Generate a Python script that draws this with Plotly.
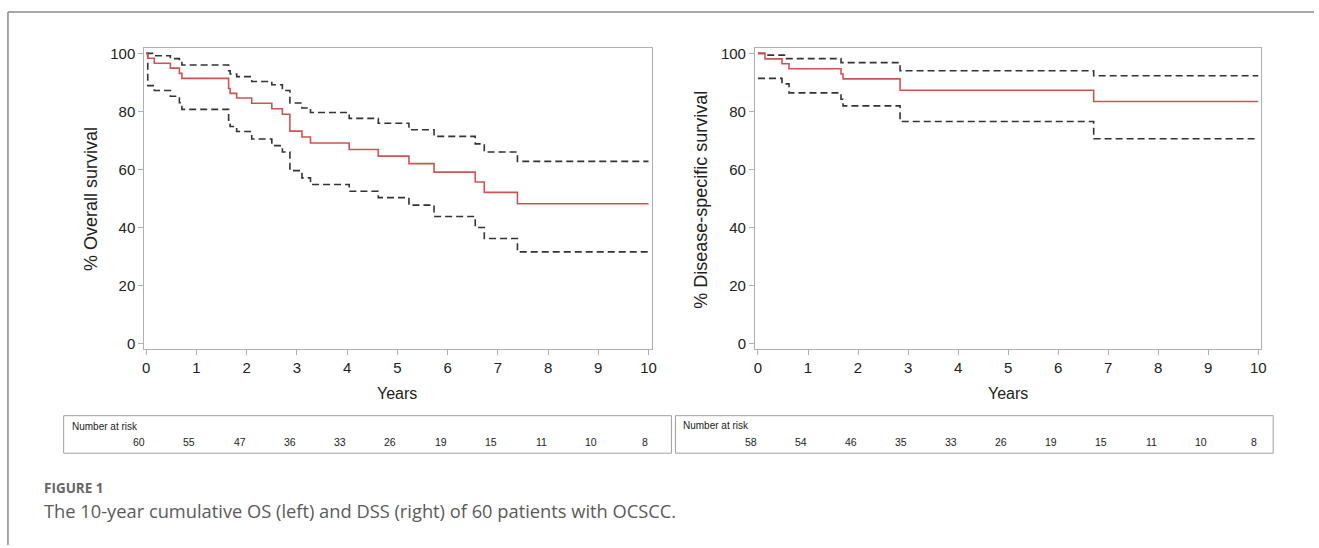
import plotly.graph_objects as go

W, H = 1319, 548

# ---------------- data ----------------
years = list(range(0, 11))

# Overall survival (left)
os_t = [0, 0.03, 0.16, 0.48, 0.66, 0.71, 1.64, 1.67, 1.80, 2.10, 2.50, 2.71, 2.86, 3.10, 3.27, 4.04, 4.62, 5.23, 5.73, 6.55, 6.73, 7.39, 10]
os_s = [100, 98.3, 96.6, 94.9, 93.1, 91.4, 87.9, 86.2, 84.6, 82.8, 80.9, 79.0, 73.2, 71.2, 69.1, 66.9, 64.6, 62.0, 59.1, 55.7, 52.1, 48.2, 48.2]
os_up_t = [0, 0.16, 0.48, 0.66, 0.71, 1.64, 1.67, 1.80, 2.10, 2.50, 2.71, 2.86, 3.10, 3.27, 4.04, 4.62, 5.23, 5.73, 6.55, 6.73, 7.39, 10]
os_up_s = [100, 99.2, 98.2, 97.4, 96.0, 94.0, 92.9, 92.0, 90.3, 89.2, 87.2, 82.9, 81.2, 79.6, 77.6, 75.9, 73.7, 71.4, 68.8, 66.0, 62.8, 62.8]
os_lo_t = [0, 0.03, 0.16, 0.48, 0.66, 0.71, 1.64, 1.67, 1.80, 2.10, 2.50, 2.71, 2.86, 3.10, 3.27, 4.04, 4.62, 5.23, 5.73, 6.55, 6.73, 7.39, 10]
os_lo_s = [100, 88.9, 87.2, 85.2, 83.0, 80.7, 77.0, 74.8, 73.1, 70.5, 68.2, 66.0, 59.6, 57.1, 54.8, 52.5, 50.3, 47.7, 43.8, 40.0, 36.2, 31.6, 31.6]
os_risk = [60, 55, 47, 36, 33, 26, 19, 15, 11, 10, 8]

# Disease-specific survival (right)
dss_t = [0, 0.14, 0.48, 0.62, 1.66, 1.70, 2.84, 6.71, 10]
dss_s = [100, 98.1, 96.4, 94.7, 92.9, 91.2, 87.3, 83.4, 83.4]
dss_up_t = [0, 0.14, 0.55, 1.66, 2.84, 6.71, 10]
dss_up_s = [100, 99.4, 98.2, 96.8, 94.0, 92.3, 92.3]
dss_lo_t = [0, 0.48, 0.62, 1.66, 1.70, 2.84, 6.71, 10]
dss_lo_s = [91.4, 89.5, 86.4, 84.2, 81.9, 76.5, 70.6, 70.6]
dss_risk = [58, 54, 46, 35, 33, 26, 19, 15, 11, 10, 8]

y_ticks = [0, 20, 40, 60, 80, 100]

# ---------------- styling ----------------
RED = "#d05353"
DASH = "#333333"
DASHPAT = "7px,4px"
AXC = "#b0b0b0"
TXT = "#222222"
FONT = "Liberation Sans, Arial, sans-serif"


def px_x(p):
    return p / W


def px_y(p):
    return 1 - p / H


fig = go.Figure()


def add_km(t, s, xa, ya, color, dash, width):
    fig.add_trace(go.Scatter(x=t, y=s, mode="lines", line=dict(color=color, dash=dash, width=width, shape="hv"),
                             xaxis=xa, yaxis=ya, showlegend=False, hoverinfo="skip"))


add_km(os_up_t, os_up_s, "x", "y", DASH, DASHPAT, 1.6)
add_km(os_lo_t, os_lo_s, "x", "y", DASH, DASHPAT, 1.6)
add_km(os_t, os_s, "x", "y", RED, "solid", 1.6)
add_km(dss_up_t, dss_up_s, "x2", "y2", DASH, DASHPAT, 1.6)
add_km(dss_lo_t, dss_lo_s, "x2", "y2", DASH, DASHPAT, 1.6)
add_km(dss_t, dss_s, "x2", "y2", RED, "solid", 1.6)

ydom = [px_y(349), px_y(45)]
common_x = dict(tickmode="array", tickvals=years, ticktext=[str(v) for v in years], ticks="outside", ticklen=5,
                tickcolor=AXC, showline=True, linecolor=AXC, linewidth=1, mirror=True, showgrid=False,
                zeroline=False, tickfont=dict(family=FONT, size=15, color=TXT), fixedrange=True)
common_y = dict(tickmode="array", tickvals=y_ticks, ticktext=[str(v) for v in y_ticks], ticks="outside", ticklen=5,
                tickcolor=AXC, showline=True, linecolor=AXC, linewidth=1, mirror=True, showgrid=False,
                zeroline=False, tickfont=dict(family=FONT, size=15, color=TXT), range=[-1.7, 101.7],
                domain=ydom, fixedrange=True)

fig.update_layout(
    width=W, height=H,
    margin=dict(l=0, r=0, t=0, b=0),
    paper_bgcolor="white", plot_bgcolor="white",
    xaxis=dict(common_x, domain=[px_x(143), px_x(653)], range=[-0.04, 10.06], anchor="y"),
    yaxis=dict(common_y, anchor="x"),
    xaxis2=dict(common_x, domain=[px_x(757), px_x(1266)], range=[-0.06, 10.06], anchor="y2"),
    yaxis2=dict(common_y, anchor="x2"),
)

ann = []
# axis titles
ann.append(dict(text="% Overall survival", x=px_x(90), y=px_y(198), xref="paper", yref="paper", textangle=-90,
                showarrow=False, font=dict(family=FONT, size=18, color=TXT), xanchor="center", yanchor="middle"))
ann.append(dict(text="% Disease-specific survival", x=px_x(703), y=px_y(198), xref="paper", yref="paper", textangle=-90,
                showarrow=False, font=dict(family=FONT, size=18, color=TXT), xanchor="center", yanchor="middle"))
ann.append(dict(text="Years", x=5, y=px_y(395), xref="x", yref="paper", showarrow=False,
                font=dict(family=FONT, size=16, color=TXT), xanchor="center", yanchor="middle"))
ann.append(dict(text="Years", x=5, y=px_y(395), xref="x2", yref="paper", showarrow=False,
                font=dict(family=FONT, size=16, color=TXT), xanchor="center", yanchor="middle"))

# number at risk
ann.append(dict(text="Number at risk", x=px_x(68), y=px_y(428), xref="paper", yref="paper", showarrow=False,
                font=dict(family=FONT, size=10, color=TXT), xanchor="left", yanchor="middle"))
ann.append(dict(text="Number at risk", x=px_x(683), y=px_y(427), xref="paper", yref="paper", showarrow=False,
                font=dict(family=FONT, size=10, color=TXT), xanchor="left", yanchor="middle"))
for yr, n in zip(years, os_risk):
    ann.append(dict(text=str(n), x=yr, y=px_y(444), xref="x", yref="paper", showarrow=False,
                    font=dict(family=FONT, size=10.5, color=TXT), xanchor="right", yanchor="middle", xshift=1))
for yr, n in zip(years, dss_risk):
    ann.append(dict(text=str(n), x=yr, y=px_y(444), xref="x2", yref="paper", showarrow=False,
                    font=dict(family=FONT, size=10.5, color=TXT), xanchor="right", yanchor="middle", xshift=1))

# caption
ann.append(dict(text="<b>FIGURE 1</b>", x=px_x(40), y=px_y(490), xref="paper", yref="paper", showarrow=False,
                font=dict(family="Open Sans, sans-serif", size=13.5, color="#666666"), xanchor="left", yanchor="middle"))
ann.append(dict(text="The 10-year cumulative OS (left) and DSS (right) of 60 patients with OCSCC.", x=px_x(40),
                y=px_y(513), xref="paper", yref="paper", showarrow=False,
                font=dict(family="Open Sans, sans-serif", size=18.3, color="#5a5a5a"), xanchor="left", yanchor="middle"))
fig.update_layout(annotations=ann)

shapes = []
# risk boxes
for x0, x1 in [(62, 673), (677, 1278)]:
    shapes.append(dict(type="rect", xref="paper", yref="paper", x0=px_x(x0), x1=px_x(x1), y0=px_y(455), y1=px_y(417),
                       line=dict(color="#a0a0a0", width=1), fillcolor="rgba(0,0,0,0)"))
# outer frame
shapes.append(dict(type="line", xref="paper", yref="paper", x0=px_x(6), x1=px_x(6), y0=px_y(8), y1=0,
                   line=dict(color="#8a8a8a", width=1.5)))
shapes.append(dict(type="line", xref="paper", yref="paper", x0=px_x(6), x1=1, y0=px_y(8), y1=px_y(8),
                   line=dict(color="#8a8a8a", width=1.5)))
fig.update_layout(shapes=shapes)

fig.write_html(
    "out.html",
    config={"displayModeBar": False},
    post_script="document.body.style.margin='0';document.body.style.padding='0';document.body.style.overflow='hidden';",
)
